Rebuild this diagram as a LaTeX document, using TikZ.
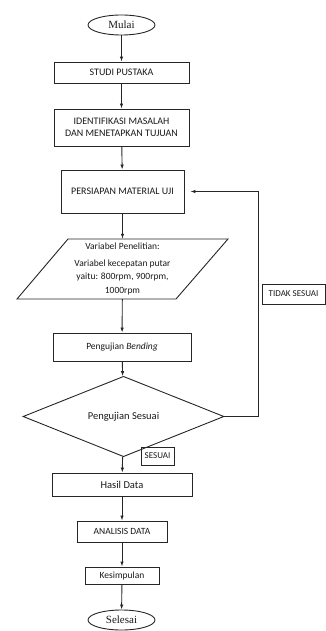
\documentclass[tikz,border=0pt]{standalone}
\usepackage{fontspec}
\setmainfont{Carlito}
\newfontfamily\serifname{Liberation Serif}
\usetikzlibrary{shapes.geometric,arrows.meta,calc}
\tikzset{
  line/.style={draw=black!85, line width=0.9pt},
  arr/.style={line, -{Latex[length=5pt,width=3.5pt]}},
  box/.style={rectangle, line, inner sep=1pt, align=center, text=black!90, font=\fontsize{10}{12.5}\selectfont},
  term/.style={ellipse, line, inner sep=0pt, text=black!90, font=\serifname\fontsize{11}{13}\selectfont},
  lbl/.style={rectangle, line, line width=0.8pt, inner sep=1pt, text=black!90, font=\fontsize{9}{11}\selectfont},
}
\begin{document}
\begin{tikzpicture}[x=1pt,y=-1pt]
\useasboundingbox (0,0) rectangle (326,631);
\node[term, minimum width=67pt, minimum height=20pt] (mulai) at (121.5,25) {Mulai};
\node[box, minimum width=135pt, minimum height=21pt] (studi) at (121.5,72.5) {STUDI PUSTAKA};
\node[box, minimum width=135pt, minimum height=37pt] (ident) at (121.5,127.5) {IDENTIFIKASI MASALAH\\DAN MENETAPKAN TUJUAN};
\node[box, minimum width=123pt, minimum height=43pt] (persiapan) at (122.5,191.5) {PERSIAPAN MATERIAL UJI};
\draw[line] (68,239) -- (228,239) -- (176,299) -- (17,299) -- cycle;
\node[rectangle, inner sep=0pt, minimum width=100pt, minimum height=60pt, align=center, text=black!90, font=\fontsize{9.5}{13.5}\selectfont] (param) at (122.5,269) {Variabel Penelitian:\\[3pt]Variabel kecepatan putar\\yaitu: 800rpm, 900rpm,\\1000rpm};
\node[box, minimum width=138pt, minimum height=28pt] (bending) at (122,347) {\fontsize{9.5}{11}\selectfont Pengujian \textit{Bending}};
\node[diamond, line, inner sep=0pt, minimum width=201pt, minimum height=59pt, text=black!90, font=\fontsize{10.5}{12}\selectfont] (diam) at (123.5,416.5) {Pengujian Sesuai};
\node[lbl, minimum width=33pt, minimum height=18pt] (sesuai) at (157.5,456) {SESUAI};
\node[lbl, minimum width=63pt, minimum height=20pt] (tidak) at (293.5,294) {TIDAK SESUAI};
\node[box, minimum width=140pt, minimum height=23pt] (hasil) at (122,484.5) {\fontsize{10.5}{12}\selectfont Hasil Data};
\node[box, minimum width=90pt, minimum height=21pt] (analisis) at (122,531.5) {\fontsize{9.5}{11}\selectfont ANALISIS DATA};
\node[box, minimum width=74pt, minimum height=17pt] (kesimpulan) at (122,575.5) {\fontsize{9.5}{11}\selectfont Kesimpulan};
\node[term, minimum width=67pt, minimum height=20pt] (selesai) at (121.5,620) {Selesai};
\coordinate (fbc) at (258,191.5);
\draw[arr] (mulai) -- (studi);
\draw[arr] (studi) -- (ident);
\draw[arr] (ident) -- (persiapan);
\draw[arr] (persiapan) -- (param);
\draw[arr] (param) -- (bending);
\draw[arr] (bending) -- (diam);
\draw[arr] (diam) -- (hasil);
\draw[arr] (hasil) -- (analisis);
\draw[arr] (analisis) -- (kesimpulan);
\draw[arr] (kesimpulan) -- (selesai);
\draw[arr, shorten >=6pt] (diam.east) -| (fbc) -- (persiapan.east);
\end{tikzpicture}
\end{document}
